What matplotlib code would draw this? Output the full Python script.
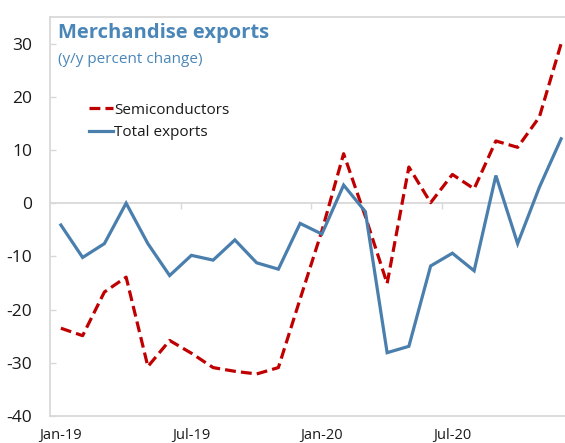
import matplotlib
matplotlib.use("Agg")
import matplotlib.pyplot as plt
import numpy as np

months = ["Jan-19", "Feb-19", "Mar-19", "Apr-19", "May-19", "Jun-19",
          "Jul-19", "Aug-19", "Sep-19", "Oct-19", "Nov-19", "Dec-19",
          "Jan-20", "Feb-20", "Mar-20", "Apr-20", "May-20", "Jun-20",
          "Jul-20", "Aug-20", "Sep-20", "Oct-20", "Nov-20", "Dec-20"]

semiconductors = [-23.5, -24.9, -16.7, -13.9, -30.7, -25.8,
                  -28.2, -30.9, -31.6, -32.1, -30.9, -18.0,
                  -5.2, 9.3, -2.5, -15.1, 6.8, 0.1,
                  5.4, 2.7, 11.7, 10.5, 16.2, 30.0]

total_exports = [-4.1, -10.2, -7.6, 0.0, -7.6, -13.6,
                 -9.8, -10.7, -6.9, -11.2, -12.4, -3.8,
                 -5.8, 3.4, -1.6, -28.1, -26.9, -11.8,
                 -9.4, -12.7, 5.2, -7.6, 3.0, 12.1]

label_months = ["Jan-19", "Jul-19", "Jan-20", "Jul-20"]
y_ticks = [30, 20, 10, 0, -10, -20, -30, -40]

plt.rcParams["font.family"] = ["Open Sans", "DejaVu Sans"]

BLUE = "#4a7fad"
RED = "#c00000"
GRID = "#d9d9d9"
TITLE = "#4a86b8"

fig = plt.figure(figsize=(5.65, 4.43), dpi=100)
ax = fig.add_axes([50 / 565, 1 - 416 / 443, (572 - 50) / 565, (416 - 17) / 443])

x = np.arange(len(months))
ax.plot(x, semiconductors, color=RED, lw=2.3, ls=(0, (3.4, 1.6)),
        label="Semiconductors", dash_capstyle="butt")
ax.plot(x, total_exports, color=BLUE, lw=2.3, label="Total exports",
        solid_joinstyle="miter")

ax.set_xlim(-0.5, len(months) - 0.5)
ax.set_ylim(-40, 35)

ax.set_yticks(y_ticks)
ax.set_yticklabels([str(v) for v in y_ticks])
ax.tick_params(axis="y", direction="in", length=4, width=1, color=GRID,
               labelsize=12.5, pad=13, labelcolor="#1a1a1a")

pos = [months.index(m) for m in label_months]
ax.set_xticks(pos)
ax.set_xticklabels(label_months)
ax.tick_params(axis="x", length=0, labelsize=10.5, pad=8.5, labelcolor="#1a1a1a")

for side in ["left", "top", "bottom"]:
    ax.spines[side].set_color(GRID)
    ax.spines[side].set_linewidth(1.3)
ax.spines["right"].set_visible(False)

# zero line with small category-boundary ticks
zero_frac = (0 - (-40)) / (35 - (-40))
sec = ax.secondary_xaxis(zero_frac)
sec.set_xticks([p - 0.5 for p in pos[1:]])
sec.set_xticklabels([])
sec.tick_params(direction="in", length=4, width=1, color=GRID)
for sp in sec.spines.values():
    sp.set_color(GRID)
    sp.set_linewidth(1.3)

ax.text(8 / 522, 0.985, "Merchandise exports", transform=ax.transAxes,
        fontsize=14.5, fontweight="bold", color=TITLE, va="top", ha="left")
ax.text(8 / 522, 0.913, "(y/y percent change)", transform=ax.transAxes,
        fontsize=11, color=TITLE, va="top", ha="left")

leg = ax.legend(loc="upper left", bbox_to_anchor=(39 / 522, 0.785), frameon=False,
                fontsize=11, handlelength=1.55, handletextpad=0.1,
                labelspacing=0.5, borderaxespad=0, borderpad=0)
for t in leg.get_texts():
    t.set_color("#1a1a1a")

fig.savefig("out.png", dpi=100)
